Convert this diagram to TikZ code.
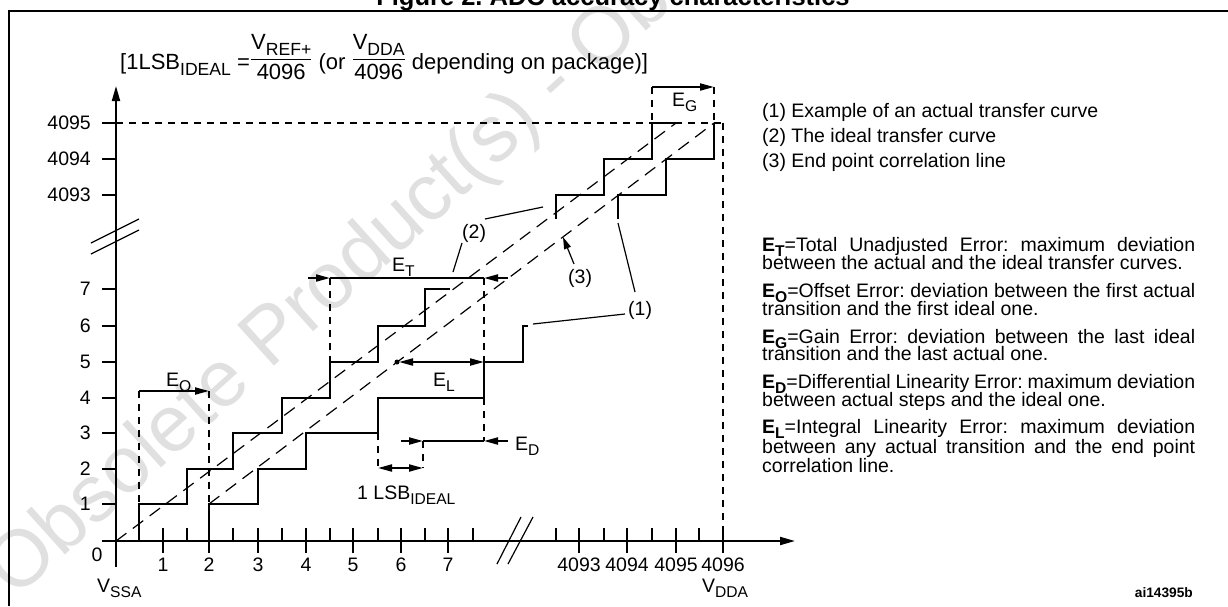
\documentclass[tikz,border=0pt]{standalone}
\usepackage{fontspec}
\setmainfont{Liberation Sans}
\usepackage{graphicx}
\usetikzlibrary{arrows.meta}
\frenchspacing
\newcommand\fsz[1]{\fontsize{#1}{#1}\selectfont}
\newcommand\sbx[1]{\raisebox{-0.28em}{\scalebox{0.8}{#1}}}
\newcommand\fr[2]{\raisebox{4pt}{$\displaystyle{\mbox{#1}\above1.2pt\mbox{#2}}$}}
\begin{document}
\begin{tikzpicture}[x=1pt,y=-1pt,
  axis/.style={line width=2pt,-{Triangle[length=15pt,width=8pt]}},
  tick/.style={line width=2pt},
  stair/.style={line width=2pt,line join=miter},
  dline/.style={line width=1.2pt,dash pattern=on 13pt off 8pt},
  vdash/.style={line width=2pt,dash pattern=on 7pt off 6pt},
  lead/.style={line width=1.2pt},
  meas/.style={line width=2pt,-{Triangle[length=14pt,width=7pt]}},
  meas2/.style={line width=2pt,{Triangle[length=14pt,width=7pt]}-{Triangle[length=14pt,width=7pt]}},
  lbl/.style={font=\fsz{19.5},inner sep=0pt},
  txt/.style={font=\fsz{19.5},inner sep=0pt,anchor=base west},
]
\useasboundingbox (0,0) rectangle (1228,606);
% watermark
\node[rotate=42,anchor=base west,font=\fsz{80},text=black!12,inner sep=0pt] (wm) at (15,600) {Obsolete Product(s) - Obsolete Product(s)};
% frame and title
\draw[line width=2.6pt] (9,606) -- (9,11) -- (1228,11);
\node[anchor=base,font=\bfseries\fsz{25.5},inner sep=0pt] (title) at (613,5) {Figure 2. ADC accuracy characteristics};
% formula
\node[txt,font=\fsz{22}] (formula) at (120,69) {[1LSB\sbx{IDEAL} =\fr{V\sbx{REF+}}{4096} (or \fr{V\sbx{DDA}}{4096} depending on package)]};
% axes
\draw[axis] (116,567) -- (116,86);
\draw[axis] (102,541) -- (795,541);
\foreach \v/\y in {1/504,2/469,3/433,4/398,5/362,6/326,7/289,4093/195,4094/159,4095/123}{
  \draw[tick] (102,\y) -- (116,\y);
  \node[lbl,anchor=east] (ylab\v) at (91,\y) {\v};
}
\foreach \v/\x in {1/163,2/209,3/258,4/306,5/353,6/401,7/448,4093/579,4094/627,4095/676,4096/723}{
  \draw[tick] (\x,528) -- (\x,553);
  \node[lbl,anchor=north] (xlab\v) at (\x,558) {\v};
}
\foreach \x in {139,187,233,282,330,378,425,473,556,604,652,699}
  \draw[tick] (\x,528) -- (\x,541);
\node[lbl] (zero) at (97,555) {0};
\node[txt] (vssa) at (97,592) {V\sbx{SSA}};
\node[txt] (vdda) at (702,592) {V\sbx{DDA}};
% axis breaks
\draw[lead] (91,243) -- (139,219);
\draw[lead] (91,254) -- (139,230);
\draw[lead] (497,564) -- (521,517);
\draw[lead] (508,564) -- (533,517);
% staircases
\draw[stair] (139,541) -- (139,504) -- (187,504) -- (187,469) -- (233,469) -- (233,433) -- (282,433) -- (282,398) -- (330,398) -- (330,362) -- (378,362) -- (378,326) -- (425,326) -- (425,289) -- (450,289);
\draw[stair] (209,541) -- (209,504) -- (258,504) -- (258,469) -- (306,469) -- (306,433) -- (378,433) -- (378,398) -- (484,398) -- (484,362) -- (523,362) -- (523,326) -- (528,326);
\draw[stair] (556,219) -- (556,195) -- (604,195) -- (604,159) -- (652,159) -- (652,123) -- (676,123);
\draw[stair] (618,219) -- (618,195) -- (666,195) -- (666,159) -- (714,159) -- (714,123);
% straight dashed lines
\draw[dline] (116,541) -- (676,123);
\draw[dline] (209,504) -- (714,123);
\draw[vdash] (116,123) -- (723,123);
\draw[vdash] (723,123) -- (723,541);
% E_O
\draw[vdash] (139,391) -- (139,504);
\draw[vdash] (209,391) -- (209,504);
\draw[meas] (139,391) -- (209,391);
\node[txt] (eo) at (166,386) {E\sbx{O}};
% E_T
\draw[vdash] (330,278) -- (330,362);
\draw[vdash] (484,278) -- (484,362);
\draw[vdash] (484,398) -- (484,441);
\draw[line width=2pt] (330,278) -- (484,278);
\draw[meas] (308,278) -- (330,278);
\draw[meas] (508,278) -- (484,278);
\node[txt] (et) at (392,271) {E\sbx{T}};
% E_L
\draw[meas2] (399,362) -- (484,362);
\fill (397,362) circle (2.5);
\node[txt] (el) at (433,386) {E\sbx{L}};
% E_D
\draw[line width=2pt] (423,441) -- (484,441);
\draw[meas] (401,441) -- (423,441);
\draw[meas] (508,441) -- (484,441);
\draw[vdash] (423,441) -- (423,468);
\draw[vdash] (378,433) -- (378,468);
\draw[meas2] (378,468) -- (423,468);
\node[txt] (ed) at (515,450) {E\sbx{D}};
\node[txt] (lsb) at (357,499) {1 LSB\sbx{IDEAL}};
% E_G
\draw[vdash] (652,87) -- (652,123);
\draw[vdash] (714,87) -- (714,123);
\draw[meas] (652,87) -- (714,87);
\node[txt] (eg) at (672,106) {E\sbx{G}};
% curve labels and leaders
\node[txt] (c2) at (462,238) {(2)};
\node[txt] (c3) at (568,283) {(3)};
\node[txt] (c1) at (628,315) {(1)};
\draw[lead] (485,219) -- (543,207);
\draw[lead] (462,243) -- (453,272);
\draw[lead,-{Triangle[length=12pt,width=7pt]}] (574,264) -- (563,237);
\draw[lead] (625,314) -- (533,324);
\draw[lead] (635,292) -- (618,223);
% legend
\node[txt] (leg1) at (762,117) {(1) Example of an actual transfer curve};
\node[txt] (leg2) at (762,142) {(2) The ideal transfer curve};
\node[txt] (leg3) at (762,167) {(3) End point correlation line};
\node[txt] (pt1) at (762,251) {\makebox[433pt][s]{\textbf{E\sbx{T}}=Total Unadjusted Error: maximum deviation}};
\node[txt] (pt2) at (762,269) {between the actual and the ideal transfer curves.};
\node[txt] (po1) at (762,297) {\makebox[433pt][s]{\textbf{E\sbx{O}}=Offset Error: deviation between the first actual}};
\node[txt] (po2) at (762,315) {transition and the first ideal one.};
\node[txt] (pg1) at (762,343) {\makebox[433pt][s]{\textbf{E\sbx{G}}=Gain Error: deviation between the last ideal}};
\node[txt] (pg2) at (762,360) {transition and the last actual one.};
\node[txt] (pd1) at (762,388) {\makebox[433pt][s]{\textbf{E\sbx{D}}=Differential Linearity Error: maximum deviation}};
\node[txt] (pd2) at (762,406) {between actual steps and the ideal one.};
\node[txt] (pl1) at (762,433) {\makebox[433pt][s]{\textbf{E\sbx{L}}=Integral Linearity Error: maximum deviation}};
\node[txt] (pl2) at (762,453) {\makebox[433pt][s]{between any actual transition and the end point}};
\node[txt] (pl3) at (762,472) {correlation line.};
\node[anchor=base east,font=\bfseries\fsz{13.7},inner sep=0pt] (code) at (1193,597) {ai14395b};
\end{tikzpicture}
\end{document}
